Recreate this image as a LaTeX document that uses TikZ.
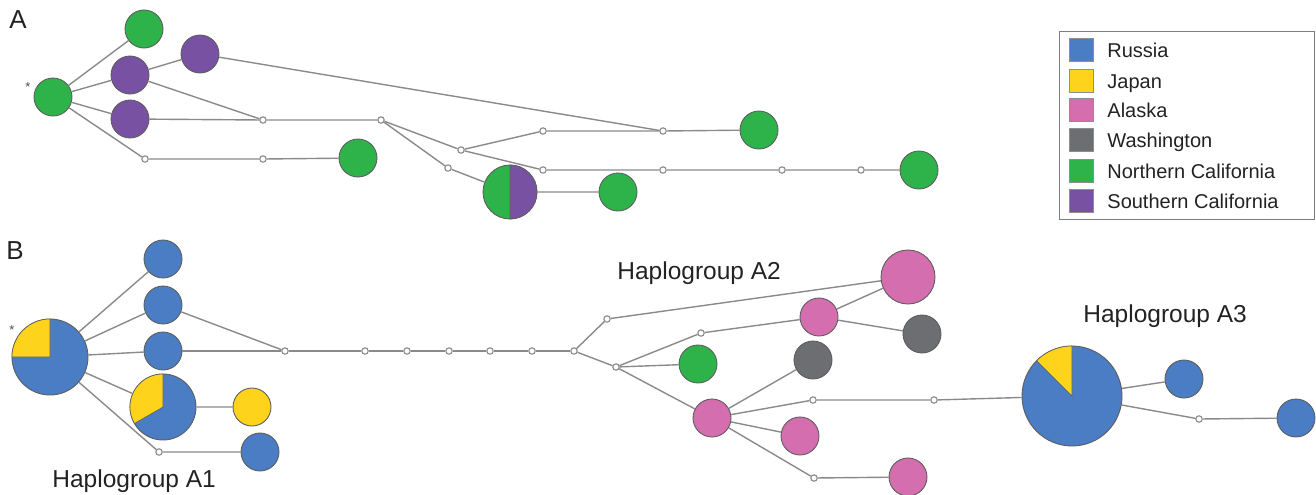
\documentclass[tikz,border=0pt]{standalone}
\usepackage{fontspec}
\setmainfont{Liberation Sans}
\usepackage{xcolor}
\usetikzlibrary{calc}

\definecolor{ru}{HTML}{4A7DC3}
\definecolor{jp}{HTML}{FDD31B}
\definecolor{ak}{HTML}{D46EAF}
\definecolor{wa}{HTML}{6D6E71}
\definecolor{nc}{HTML}{2DB34A}
\definecolor{sc}{HTML}{7951A3}
\definecolor{linegrey}{HTML}{8A8A8A}
\definecolor{rimgrey}{HTML}{5E5E5E}
\definecolor{ink}{HTML}{222222}

\tikzset{
  hap/.style={circle, draw=rimgrey, line width=0.45pt, inner sep=0pt, minimum size=#1},
  hap/.default=19pt,
  mv/.style={circle, draw=linegrey, fill=white, line width=0.55pt, inner sep=0pt, minimum size=3.2pt},
  link/.style={draw=linegrey, line width=0.7pt},
  swatch/.style={draw=rimgrey!70, line width=0.4pt, minimum width=12pt, minimum height=11.5pt, inner sep=0pt},
  legtext/.style={anchor=base west, inner sep=0pt, text=ink, font=\fontsize{10pt}{12pt}\selectfont},
  grouplabel/.style={anchor=base west, inner sep=0pt, text=ink, font=\fontsize{12.25pt}{14pt}\selectfont},
  panel/.style={inner sep=0pt, text=ink, font=\fontsize{13pt}{15pt}\selectfont},
  star/.style={inner sep=0pt, text=ink!80, font=\fontsize{6.5pt}{7pt}\selectfont}
}

\begin{document}
\begin{tikzpicture}[x=0.5pt, y=0.5pt]
  \useasboundingbox (0,0) rectangle (1316,-494);

  % panel A
  \node[panel] (labA) at (18,-20) {A};
  \node[star] (starA) at (28,-87) {*};
  \node[hap, fill=nc] (a0) at (53,-97) {};
  \node[hap, fill=nc] (a1) at (144,-29) {};
  \node[hap, fill=sc] (a2) at (130,-75) {};
  \node[hap, fill=sc] (a3) at (200,-54) {};
  \node[hap, fill=sc] (a4) at (130,-119) {};
  \node[hap, fill=nc] (a5) at (358,-158) {};
  \node[hap, fill=nc] (a6) at (759,-130) {};
  \node[hap, fill=nc] (a7) at (919,-170) {};
  \node[hap=27pt, fill=nc] (a8) at (510,-192) {};
  \filldraw[fill=sc, draw=rimgrey, line width=0.3pt] (a8.center) -- ++(90:13.5pt)
    arc[start angle=90, end angle=-90, radius=13.5pt] -- cycle;
  \node[hap, fill=nc] (a9) at (618,-192) {};

  \node[mv] (am1) at (145,-159) {};
  \node[mv] (am2) at (263,-159) {};
  \node[mv] (am3) at (263,-120) {};
  \node[mv] (am4) at (381,-120) {};
  \node[mv] (am5) at (461,-150) {};
  \node[mv] (am6) at (448,-168) {};
  \node[mv] (am7) at (543,-131) {};
  \node[mv] (am8) at (663,-131) {};
  \node[mv] (am9) at (543,-170) {};
  \node[mv] (am10) at (663,-170) {};
  \node[mv] (am11) at (782,-170) {};
  \node[mv] (am12) at (861,-170) {};

  \draw[link] (a0) -- (a1);
  \draw[link] (a0) -- (a2);
  \draw[link] (a0) -- (a4);
  \draw[link] (a0) -- (am1) -- (am2) -- (a5);
  \draw[link] (a2) -- (a3);
  \draw[link] (a2) -- (am3);
  \draw[link] (a4) -- (am3) -- (am4);
  \draw[link] (a3) -- (am8);
  \draw[link] (am4) -- (am5) -- (am7) -- (am8) -- (a6);
  \draw[link] (am5) -- (am9) -- (am10) -- (am11) -- (am12) -- (a7);
  \draw[link] (am4) -- (am6) -- (a8) -- (a9);

  % legend
  \draw[rimgrey!80, line width=0.5pt] (1059,-31) rectangle (1314,-219);
  \node[swatch, fill=ru] (sw1) at (1081.5,-50) {};
  \node[swatch, fill=jp] (sw2) at (1081.5,-81) {};
  \node[swatch, fill=ak] (sw3) at (1081.5,-110) {};
  \node[swatch, fill=wa] (sw4) at (1081.5,-140) {};
  \node[swatch, fill=nc] (sw5) at (1081.5,-171) {};
  \node[swatch, fill=sc] (sw6) at (1081.5,-201) {};
  \node[legtext] (lt1) at (1107,-57) {Russia};
  \node[legtext] (lt2) at (1107,-88) {Japan};
  \node[legtext] (lt3) at (1107,-117) {Alaska};
  \node[legtext] (lt4) at (1107,-147) {Washington};
  \node[legtext] (lt5) at (1107,-178) {Northern California};
  \node[legtext] (lt6) at (1107,-208) {Southern California};

  % panel B
  \node[panel] (labB) at (15,-251) {B};
  \node[star] (starB) at (12,-330) {*};
  \node[hap=38pt, fill=ru] (b0) at (50,-357) {};
  \filldraw[fill=jp, draw=rimgrey, line width=0.3pt] (b0.center) -- ++(90:19pt)
    arc[start angle=90, end angle=180, radius=19pt] -- cycle;
  \node[hap, fill=ru] (b1) at (163,-259) {};
  \node[hap, fill=ru] (b2) at (163,-305) {};
  \node[hap, fill=ru] (b3) at (163,-351) {};
  \node[hap=33pt, fill=ru] (b4) at (163,-407) {};
  \filldraw[fill=jp, draw=rimgrey, line width=0.3pt] (b4.center) -- ++(90:16.5pt)
    arc[start angle=90, end angle=210, radius=16.5pt] -- cycle;
  \node[hap, fill=jp] (b5) at (252,-407) {};
  \node[hap, fill=ru] (b6) at (260,-452) {};
  \node[hap=27pt, fill=ak] (b7) at (908,-277) {};
  \node[hap, fill=ak] (b8) at (819,-317) {};
  \node[hap, fill=wa] (b9) at (922,-334) {};
  \node[hap, fill=nc] (b10) at (698,-364) {};
  \node[hap, fill=wa] (b11) at (813,-360) {};
  \node[hap, fill=ak] (b12) at (712,-418) {};
  \node[hap, fill=ak] (b13) at (800,-436) {};
  \node[hap, fill=ak] (b14) at (908,-477) {};
  \node[hap=50pt, fill=ru] (b15) at (1072,-396) {};
  \filldraw[fill=jp, draw=rimgrey, line width=0.3pt] (b15.center) -- ++(90:25pt)
    arc[start angle=90, end angle=135, radius=25pt] -- cycle;
  \node[hap, fill=ru] (b16) at (1184,-379) {};
  \node[hap, fill=ru] (b17) at (1296,-418) {};

  \node[mv] (bm1) at (159,-452) {};
  \node[mv] (bm2) at (285,-351) {};
  \node[mv] (bm3) at (365,-351) {};
  \node[mv] (bm4) at (407,-351) {};
  \node[mv] (bm5) at (449,-351) {};
  \node[mv] (bm6) at (490,-351) {};
  \node[mv] (bm7) at (532,-351) {};
  \node[mv] (bm8) at (574,-351) {};
  \node[mv] (bm9) at (607,-319) {};
  \node[mv] (bm10) at (616,-367) {};
  \node[mv] (bm11) at (701,-333) {};
  \node[mv] (bm12) at (813,-400) {};
  \node[mv] (bm13) at (934,-400) {};
  \node[mv] (bm14) at (814,-478) {};
  \node[mv] (bm15) at (1199,-419) {};

  \draw[link] (b0) -- (b1);
  \draw[link] (b0) -- (b2);
  \draw[link] (b0) -- (b3);
  \draw[link] (b0) -- (b4) -- (b5);
  \draw[link] (b0) -- (bm1) -- (b6);
  \draw[link] (b2) -- (bm2);
  \draw[link] (b3) -- (bm2) -- (bm3) -- (bm4) -- (bm5) -- (bm6) -- (bm7) -- (bm8);
  \draw[link] (bm8) -- (bm9) -- (b7);
  \draw[link] (bm8) -- (bm10) -- (bm11) -- (b8) -- (b7);
  \draw[link] (b8) -- (b9);
  \draw[link] (bm10) -- (b10);
  \draw[link] (bm10) -- (b12) -- (b11);
  \draw[link] (b12) -- (b13);
  \draw[link] (b12) -- (bm14) -- (b14);
  \draw[link] (b12) -- (bm12) -- (bm13) -- (b15) -- (b16);
  \draw[link] (b15) -- (bm15) -- (b17);

  \node[grouplabel] (hgA1) at (52,-487) {Haplogroup A1};
  \node[grouplabel] (hgA2) at (617,-279) {Haplogroup A2};
  \node[grouplabel] (hgA3) at (1083,-322) {Haplogroup A3};
\end{tikzpicture}
\end{document}
